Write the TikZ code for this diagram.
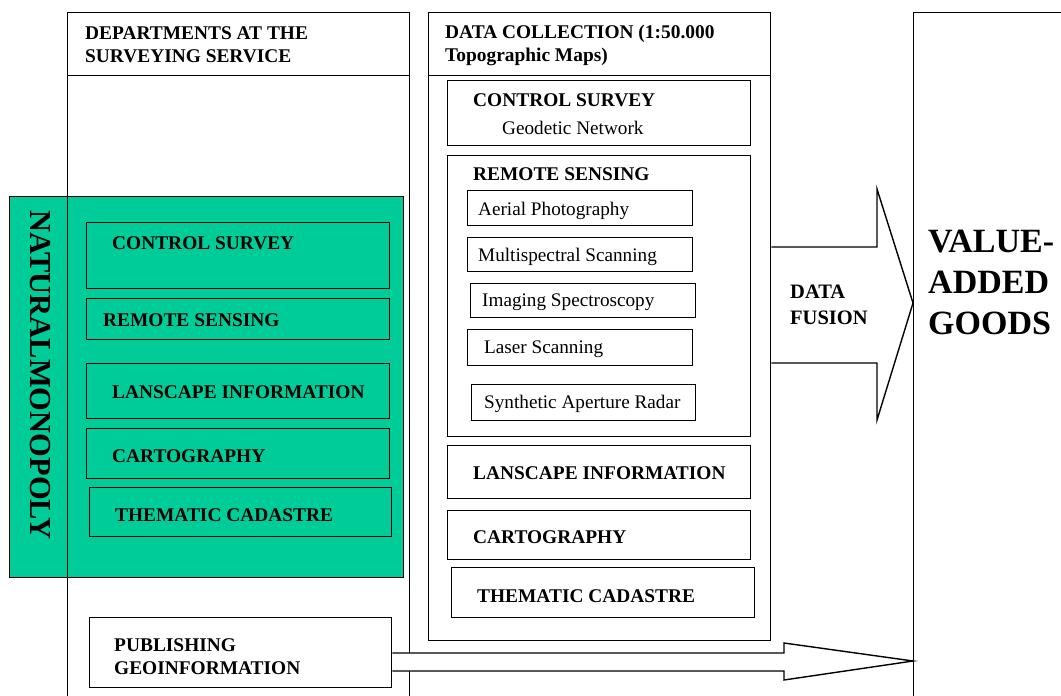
\documentclass[tikz,border=0pt]{standalone}
\usepackage{fontspec}
\setmainfont{Liberation Serif}
\definecolor{monogreen}{RGB}{0,204,153}
\tikzstyle{box}=[draw,line width=1.4pt,inner sep=0pt,anchor=north west]
\tikzstyle{head}=[font=\fontsize{19.4}{23}\selectfont\bfseries,anchor=west,align=left,inner sep=0pt]
\tikzstyle{plain}=[font=\fontsize{19.2}{23}\selectfont,anchor=west,inner sep=0pt]
\tikzstyle{fat}=[draw,line width=1.4pt,line join=miter]

\begin{document}
\begin{tikzpicture}[x=1pt,y=-1pt]
    \useasboundingbox (0,0) rectangle (1061,696);
    % First the green block
    \node[box,fill=monogreen,minimum width=394,minimum height=381] (mono) at (9,196) {};
    \node[rotate=-90,inner sep=0pt,font=\fontsize{30.5}{30}\selectfont\bfseries] (monotext) at (40,375) {NATURALMONOPOLY};
    % Then the columns and all the boxes
    \foreach \pos/\w/\h/\name in {{(67,12)/342/720/deps}, {(67,12)/342/63/depshead},
        {(428,12)/342/628/coll}, {(428,12)/342/63/collhead}, {(913,12)/170/720/goods},
        {(86,222)/303/66/gcs}, {(86,298)/303/41/grs}, {(86,363)/303/55/gli},
        {(86,428)/303/50/gca}, {(89,487)/302/49/gtc}, {(89,617)/302/70/pub},
        {(447,80)/303/65/mcs}, {(447,155)/303/281/mrs}, {(467,190)/225/35/ap},
        {(467,237)/225/34/ms}, {(470,283)/225/34/is}, {(467,329)/225/36/ls},
        {(471,384)/224/36/sar}, {(447,445)/303/53/mli}, {(447,510)/303/49/mca},
        {(451,567)/303/50/mtc}}
        \node[box,minimum width=\w,minimum height=\h] (\name) at \pos {};
    % Bold labels
    \foreach \pos/\name/\txt in {{(85,44.5)/depstext/{DEPARTMENTS AT THE\\SURVEYING SERVICE}},
        {(445,45)/colltext/{DATA COLLECTION (1:50.000\\Topographic Maps)}},
        {(112,243)/gcstext/CONTROL SURVEY}, {(103,320)/grstext/REMOTE SENSING},
        {(112,392)/glitext/LANSCAPE INFORMATION}, {(112,456)/gcatext/CARTOGRAPHY},
        {(115,515)/gtctext/THEMATIC CADASTRE}, {(114,656.5)/pubtext/{PUBLISHING\\GEOINFORMATION}},
        {(473,100)/mcstext/CONTROL SURVEY}, {(473,174)/mrstext/REMOTE SENSING},
        {(473,473)/mlitext/LANSCAPE INFORMATION}, {(473,537)/mcatext/CARTOGRAPHY},
        {(477,596)/mtctext/THEMATIC CADASTRE}}
        \node[head] (\name) at \pos {\txt};
    % Plain labels
    \foreach \pos/\name/\txt in {{(502,128)/geotext/Geodetic Network}, {(478,211)/aptext/Aerial Photography},
        {(478,257)/mstext/Multispectral Scanning}, {(482,302)/istext/Imaging Spectroscopy},
        {(484,349)/lstext/Laser Scanning}, {(484,404)/sartext/Synthetic Aperture Radar}}
        \node[plain] (\name) at \pos {\txt};
    % Arrows into the goods
    \coordinate (fusiontip) at (goods.west |- 0,303);
    \coordinate (pubtip) at (goods.west |- 0,661);
    \draw[fat] (coll.east |- 0,247) -- (877,247) -- (877,189) -- (fusiontip) -- (877,420) -- (877,363) -- (coll.east |- 0,363);
    \node[head,font=\fontsize{20.5}{26}\selectfont\bfseries] (fusion) at (790,305) {DATA\\FUSION};
    \draw[fat,fill=white] (pub.east |- 0,653) -- (784,653) -- (784,643) -- (pubtip) -- (784,680) -- (784,671) -- (pub.east |- 0,671);
    \node[head,font=\fontsize{34}{41}\selectfont\bfseries] (goodstext) at (928,282) {VALUE-\\ADDED\\GOODS};
\end{tikzpicture}
\end{document}
